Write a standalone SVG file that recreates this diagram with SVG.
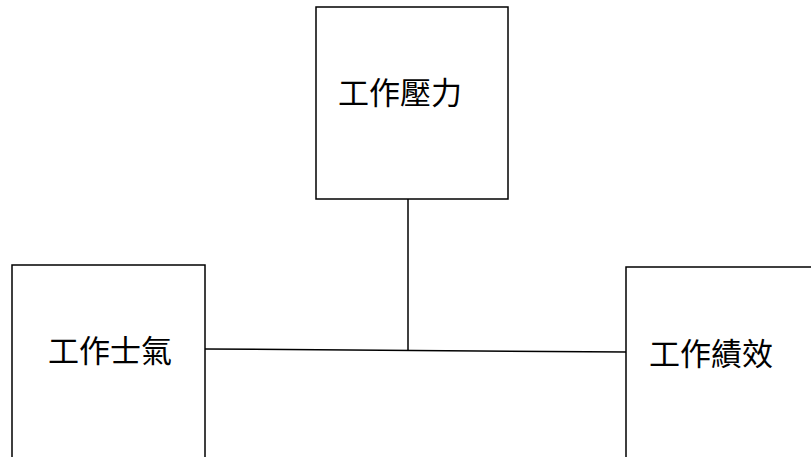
<svg xmlns="http://www.w3.org/2000/svg" width="811" height="457" viewBox="0 0 811 457">
<style>
.box{fill:#fff;stroke:#000;stroke-width:1.5}
.lbl{font-family:"Noto Sans CJK TC","Noto Sans CJK SC",sans-serif;font-size:31px;fill:#000;text-anchor:middle;dominant-baseline:central}
.conn{stroke:#000;stroke-width:1.5;fill:none}
</style>
<rect width="811" height="457" fill="#fff"/>
<g id="connectors">
<line class="conn" x1="205" y1="349" x2="626" y2="352"/>
<line class="conn" x1="408" y1="199" x2="408" y2="350.5"/>
</g>
<g id="stress">
<rect class="box" x="316" y="7" width="192" height="192"/>
<text class="lbl" x="400" y="90">工作壓力</text>
</g>
<g id="morale">
<rect class="box" x="12" y="265" width="193" height="200"/>
<text class="lbl" x="110" y="348">工作士氣</text>
</g>
<g id="performance">
<rect class="box" x="626" y="267" width="200" height="200"/>
<text class="lbl" x="711" y="351">工作績效</text>
</g>
</svg>
